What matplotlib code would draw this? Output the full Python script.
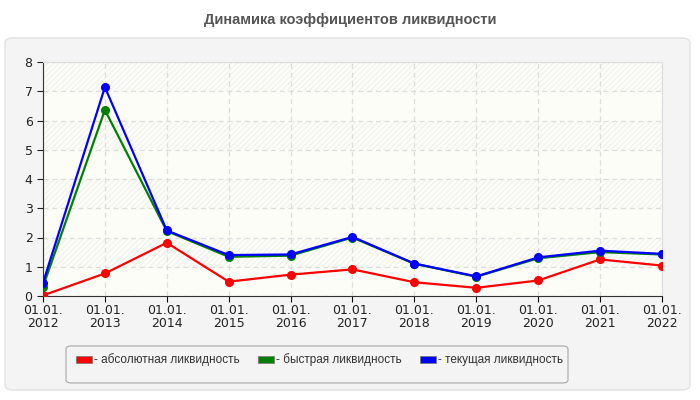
import matplotlib
matplotlib.use('Agg')
import matplotlib.pyplot as plt
from matplotlib.patches import FancyBboxPatch, Patch

plt.rcParams['font.family'] = ['DejaVu Sans']
plt.rcParams['hatch.linewidth'] = 0.6

years = ['2012', '2013', '2014', '2015', '2016', '2017', '2018', '2019', '2020', '2021', '2022']
labels = ['01.01.\n' + y for y in years]

absolute = [0.02, 0.77, 1.82, 0.49, 0.73, 0.91, 0.47, 0.28, 0.53, 1.25, 1.04]
quick = [0.32, 6.36, 2.22, 1.34, 1.38, 2.00, 1.10, 0.66, 1.29, 1.50, 1.42]
current = [0.45, 7.14, 2.24, 1.40, 1.42, 2.02, 1.11, 0.67, 1.32, 1.55, 1.44]

series_names = ['- абсолютная ликвидность', '- быстрая ликвидность', '- текущая ликвидность']
colors = ['#ff0000', '#008000', '#0000ff']

fig = plt.figure(figsize=(7, 4), dpi=100)
fig.patch.set_facecolor('white')

# grey panel under the chart
panel = FancyBboxPatch((5 / 700, 10 / 400), 685 / 700, 352 / 400,
                       boxstyle='round,pad=0,rounding_size=0.012',
                       transform=fig.transFigure, facecolor='#f4f4f4',
                       edgecolor='#e2e2e2', linewidth=1, zorder=-5)
fig.patches.append(panel)

# legend box
legbox = FancyBboxPatch((66 / 700, 1 - 383 / 400), 502 / 700, 37 / 400,
                        boxstyle='round,pad=0,rounding_size=0.008',
                        transform=fig.transFigure, facecolor='#f4f4f4',
                        edgecolor='#b0b0b0', linewidth=0.9, zorder=-4)
fig.patches.append(legbox)

fig.text(0.5, 0.95, 'Динамика коэффициентов ликвидности', ha='center', va='center',
         fontsize=10.5, fontweight='bold', color='#555555', family='Liberation Sans')

ax = fig.add_axes([43 / 700, 1 - 296 / 400, 619 / 700, 234 / 400])
ax.set_facecolor('#fdfdf7')
x = list(range(len(years)))

for lo in range(0, 8):
    if lo % 2 == 1:
        ax.axhspan(lo, lo + 1, facecolor='none', edgecolor='#ececec', hatch='//////',
                   linewidth=0, zorder=0)

ax.plot(x, absolute, color=colors[0], lw=1.6, marker='o', ms=5.5, zorder=3)
ax.plot(x, quick, color=colors[1], lw=1.6, marker='o', ms=5.5, zorder=4)
ax.plot(x, current, color=colors[2], lw=1.6, marker='o', ms=5.5, zorder=5)

ax.set_xlim(0, len(years) - 1)
ax.set_ylim(0, 8)
ax.set_xticks(x)
ax.set_xticklabels(labels, fontsize=9, color='#222222', linespacing=1.0)
ax.set_yticks(range(0, 9))
ax.tick_params(axis='y', labelsize=9, colors='#222222', length=4)
ax.tick_params(axis='x', length=4, pad=2)
ax.grid(True, color='#dddddd', linestyle=(0, (4, 3)), linewidth=0.9)
ax.set_axisbelow(True)
for side in ['top', 'right']:
    ax.spines[side].set_color('#dddddd')
for side in ['left', 'bottom']:
    ax.spines[side].set_color('#333333')

handles = [Patch(facecolor=c, edgecolor='#777777', linewidth=0.5) for c in colors]
leg = fig.legend(handles, series_names, loc='center left', ncol=3,
                 bbox_to_anchor=(76 / 700, 1 - 360 / 400),
                 frameon=False, borderpad=0, borderaxespad=0,
                 handlelength=1.36, handleheight=0.6, handletextpad=0.15,
                 columnspacing=1.55,
                 prop={'family': 'Liberation Sans', 'size': 8.5})
for t in leg.get_texts():
    t.set_color('#333333')

fig.savefig('out.png', dpi=100)
